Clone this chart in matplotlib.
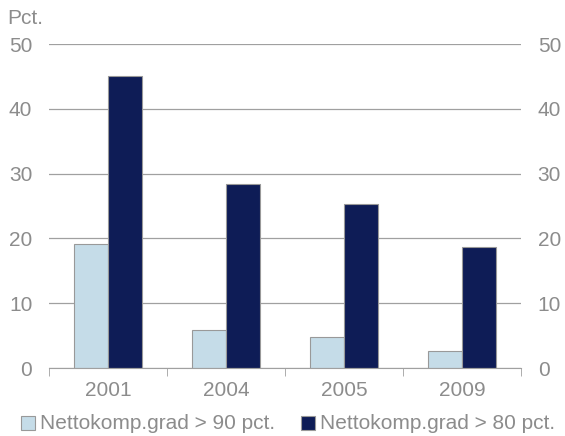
import matplotlib
matplotlib.use("Agg")
import matplotlib.pyplot as plt
import numpy as np
from matplotlib.patches import Rectangle

years = ["2001", "2004", "2005", "2009"]
over90 = [19.1, 5.8, 4.8, 2.6]
over80 = [45.0, 28.4, 25.3, 18.6]
labels = ["Nettokomp.grad > 90 pct.", "Nettokomp.grad > 80 pct."]

light = "#C5DCE8"
dark = "#0E1C56"
edge = "#999999"
txt = "#8C8C8C"

plt.rcParams['font.family'] = ['Liberation Sans', 'DejaVu Sans']

W, H = 565, 436
fig = plt.figure(figsize=(W/100, H/100), dpi=100)
ax = fig.add_axes([49/W, (H-368)/H, 472/W, 324/H])

x = np.arange(len(years))
w = 0.288
ax.bar(x - w/2, over90, w, color=light, edgecolor=edge, linewidth=0.8, zorder=3)
ax.bar(x + w/2, over80, w, color=dark, edgecolor=edge, linewidth=0.8, zorder=3)

ax.set_xlim(-0.5, len(years) - 0.5)
ax.set_ylim(0, 50)
ax.set_yticks(range(0, 51, 10))
ax.yaxis.grid(True, color="#A0A0A0", linewidth=0.9, zorder=0)
for s in ["left", "right", "top"]:
    ax.spines[s].set_visible(False)
ax.spines["bottom"].set_color("#A0A0A0")
ax.spines["bottom"].set_zorder(4)

ax.set_xticks(x)
ax.set_xticklabels(years, fontsize=15, color=txt)
ax.tick_params(axis="x", which="major", length=0, pad=9)
ax.set_xticks(np.arange(-0.5, len(years)), minor=True)
ax.tick_params(axis="x", which="minor", length=6, color="#A0A0A0", direction="out")

ax.tick_params(axis="y", length=0, labelsize=15, labelcolor=txt, pad=12,
               labelleft=True, labelright=True)

fig.text(7/W, 1 - 19/H, "Pct.", fontsize=15, color=txt, va="center", ha="left")

# legend
ly = 423
for (sx, tx), col, lab in zip([(21, 40), (301, 320)], [light, dark], labels):
    fig.patches.append(Rectangle((sx/W, (H-ly-7)/H), 14/W, 14/H, transform=fig.transFigure,
                                 facecolor=col, edgecolor=edge, linewidth=0.8))
    fig.text(tx/W, 1 - ly/H, lab, fontsize=15, color=txt, va="center", ha="left")

fig.savefig("out.png", dpi=100)
